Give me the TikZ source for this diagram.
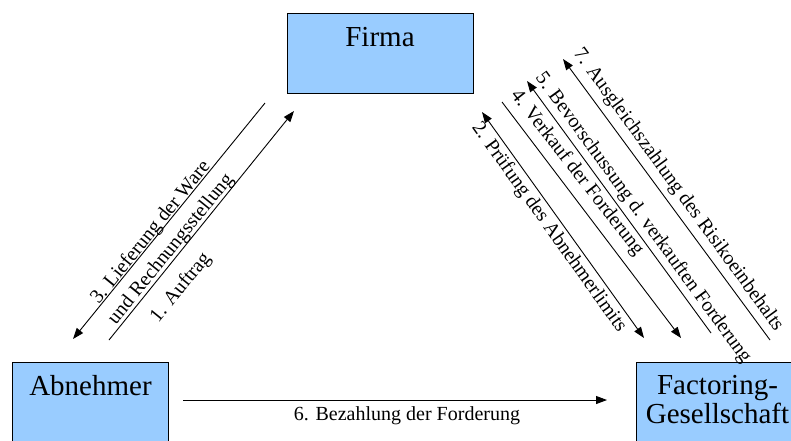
\documentclass[tikz,border=0pt]{standalone}
\usepackage{fontspec}
\setmainfont{Liberation Serif}
\usetikzlibrary{arrows.meta}
\definecolor{boxblue}{RGB}{153,204,255}
\tikzset{
  partner/.style={draw=black, fill=boxblue, line width=1pt, minimum height=81pt, inner sep=0pt},
  big/.style={font=\fontsize{29}{29}\selectfont, inner sep=0pt},
  small/.style={font=\fontsize{20}{26}\selectfont, inner sep=0pt},
  flow/.style={line width=0.9pt, -{Triangle[length=11pt,width=8pt]}},
  bothflow/.style={line width=0.9pt, {Triangle[length=11pt,width=8pt]}-{Triangle[length=11pt,width=8pt]}}
}
\begin{document}
\begin{tikzpicture}[x=1pt,y=-1pt]
  \clip (0,0) rectangle (791,440);
  % the three parties
  \node[partner, minimum width=186pt, minimum height=80.5pt] (firma) at (380,53.3) {};
  \node[partner, minimum width=155.6pt] (abnehmer) at (90.5,403.2) {};
  \node[partner, minimum width=163pt] (factoring) at (717.5,403.2) {};
  \node[big, anchor=base] (firmatxt) at (380,46.7) {Firma};
  \node[big, anchor=base] (abnehmertxt) at (90.5,395.7) {Abnehmer};
  \node[big, align=center] (factoringtxt) at (717.5,400) {Factoring-\\Gesellschaft};
  % line ends
  \coordinate (l1a) at (109,340);
  \coordinate (l1b) at (294,111);
  \coordinate (l3a) at (265,103);
  \coordinate (l3b) at (73,339);
  \coordinate (l2a) at (482,112);
  \coordinate (l2b) at (644,338);
  \coordinate (l4a) at (502,102);
  \coordinate (l4b) at (681,338);
  \coordinate (l5a) at (711,333);
  \coordinate (l5b) at (527,81);
  \coordinate (l7a) at (770,340);
  \coordinate (l7b) at (563,59);
  \coordinate (l6a) at (183,400);
  \coordinate (l6b) at (607,400);
  \begin{scope}[flow]
    \draw (l1a) to (l1b);
    \draw (l3a) to (l3b);
    \draw[bothflow] (l2a) to (l2b);
    \draw (l4a) to (l4b);
    \draw (l5a) to (l5b);
    \draw (l7a) to (l7b);
    \draw (l6a) to (l6b);
  \end{scope}
  % labels
  \node[small, rotate=51, align=center] (lbl3) at (161,241) {3. Lieferung der Ware\\und Rechnungsstellung};
  \node[small, rotate=51] (lbl1) at (181,288) {1. Auftrag};
  \node[small, rotate=-54.5] (lbl2) at (549,227.5) {2. Prüfung des Abnehmerlimits};
  \node[small, rotate=-52] (lbl4) at (577,173) {4. Verkauf der Forderung};
  \node[small, rotate=-54] (lbl5) at (643,218) {5. Bevorschussung d. verkauften Forderung};
  \node[small, rotate=-54] (lbl7) at (678,190) {7. Ausgleichszahlung des Risikoeinbehalts};
  \node[small] (lbl6) at (407,416) {6. Bezahlung der Forderung};
\end{tikzpicture}
\end{document}
